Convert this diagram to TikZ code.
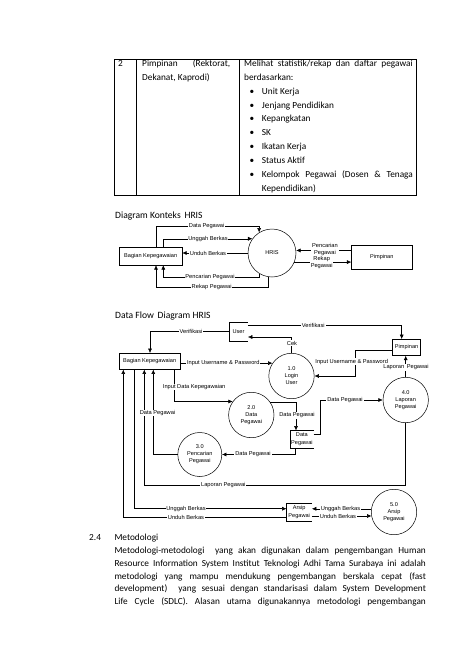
\documentclass[tikz,border=0pt]{standalone}
\usepackage{fontspec}
\setmainfont{Carlito}
\newfontfamily\diafont{Liberation Sans}
\usetikzlibrary{arrows.meta}
\begin{document}
\begin{tikzpicture}[x=1pt,y=-1pt,
  every node/.style={inner sep=0pt},
  body/.style={font=\fontsize{9.3}{11}\selectfont, anchor=base west},
  captext/.style={font=\fontsize{9.6}{11}\selectfont, anchor=base west},
  lbl/.style={font=\diafont\fontsize{5.7}{6.9}\selectfont, fill=white, inner sep=0.8pt, align=center},
  proc/.style={circle, draw, line width=0.5pt, minimum size=45.4pt, font=\diafont\fontsize{5.6}{7}\selectfont, align=center},
  ent/.style={rectangle, draw, line width=0.5pt, font=\diafont\fontsize{5.6}{7}\selectfont},
  store/.style={rectangle, font=\diafont\fontsize{5.6}{7.5}\selectfont, align=center},
  flow/.style={draw, line width=0.5pt, -{Latex[length=4.4pt,width=4pt]}},
  plain/.style={draw, line width=0.5pt}
]
\useasboundingbox[fill=white] (0,0) rectangle (474,670);

% ---------------- table ----------------
\draw[line width=0.7pt] (114,59) rectangle (416,195);
\draw[line width=0.7pt] (136,59) -- (136,195) (239,59) -- (239,195);
\node[body] (t0) at (118,66.3) {2};
\node[body] (t1) at (142,66.3) {\makebox[88pt][s]{Pimpinan\hfill(Rektorat,}};
\node[body] (t2) at (142,80.2) {Dekanat, Kaprodi)};
\node[body] (t3) at (244,66.3) {\makebox[168.5pt][s]{Melihat statistik/rekap dan daftar pegawai}};
\node[body] (t4) at (244,80.2) {berdasarkan:};
\foreach \yy/\tt [count=\i] in {94.1/Unit Kerja, 108/Jenjang Pendidikan, 121.9/Kepangkatan, 135.8/SK, 149.7/Ikatan Kerja, 163.6/Status Aktif}{
  \node[body] (b\i) at (249.3,\yy) {\textbullet};
  \node[body] (bt\i) at (261.7,\yy) {\tt};
}
\node[body] (b7) at (249.3,177.5) {\textbullet};
\node[body] (bt7) at (261.7,177.5) {\makebox[151pt][s]{Kelompok Pegawai (Dosen \& Tenaga}};
\node[body] (bt8) at (261.7,191.4) {Kependidikan)};

% ---------------- context diagram ----------------
\node[captext] (c1) at (115,218) {Diagram Konteks\, HRIS};
\node[ent, minimum width=62.7pt, minimum height=17.3pt] (bk1) at (150.7,256.3) {Bagian Kepegawaian};
\node[proc, minimum size=48pt] (hris) at (272,253) {HRIS};
\node[ent, minimum width=60.5pt, minimum height=24pt] (pim1) at (381.8,257) {Pimpinan};

\draw[flow] (bk1.north -| 156,0) -- (156,226) -| (hris.122);
\draw[flow] (bk1.north -| 163.3,0) |- (hris.144);
\draw[flow] (hris.west) -- (hris.west -| bk1.east);
\draw[flow] (hris.238) |- (163.3,277.3) -- (bk1.south -| 163.3,0);
\draw[flow] (hris.260) |- (156,287.3) -- (bk1.south -| 156,0);
\draw[flow] (pim1.west |- hris.6) -- (hris.6);
\draw[flow] (hris.-22) -- (pim1.west |- hris.-22);

\node[lbl] (k1) at (206.7,226) {Data Pegawai};
\node[lbl] (k2) at (208,239) {Unggah Berkas};
\node[lbl] (k3) at (208,253) {Unduh Berkas};
\node[lbl] (k4) at (210,277.3) {Pencarian Pegawai};
\node[lbl] (k5) at (211.7,287.3) {Rekap Pegawai};
\node[lbl] (k6) at (325,249.2) {Pencarian\\Pegawai};
\node[lbl] (k7) at (321.7,262.8) {Rekap\\Pegawai};

% ---------------- data flow diagram ----------------
\node[captext] (c2) at (115,318) {Data Flow\, Diagram HRIS};
\node[ent, minimum width=60.7pt, minimum height=16pt] (bk2) at (149.7,361.3) {Bagian Kepegawaian};
\node[ent, minimum width=27.8pt, minimum height=16.2pt] (pim2) at (406.6,347.4) {Pimpinan};
\node[store, minimum width=18.4pt, minimum height=18.2pt] (user) at (238.5,331.6) {User};
\node[proc] (p1) at (291.5,376) {1.0\\Login\\User};
\node[proc] (p2) at (251.3,415) {2.0\\Data\\Pegawai};
\node[proc, minimum size=44pt] (p3) at (199.8,454.5) {3.0\\Pencarian\\Pegawai};
\node[proc] (p4) at (405.7,400) {4.0\\Laporan\\Pegawai};
\node[proc] (p5) at (394,512) {5.0\\Arsip\\Pegawai};
\node[store, minimum width=22.8pt, minimum height=17pt] (dstore) at (301.9,439.2) {Data\\Pegawai};
\node[store, minimum width=25pt, minimum height=18pt] (arsip) at (299.2,512) {Arsip\\Pegawai};
\draw[plain] (user.north east) -- (user.north west) -- (user.south west) -- (user.south east);
\draw[plain] (dstore.north east) -- (dstore.north west) -- (dstore.south west) -- (dstore.south east);
\draw[plain] (arsip.north east) -- (arsip.north west) -- (arsip.south west) -- (arsip.south east);

\draw[flow] (user.west) -| (bk2.north -| 150,0);
\draw[flow] (user.east |- 0,325.5) -| (pim2.north -| 401.7,0);
\draw[flow] (p1.north) |- (user.east |- 0,337);
\draw[flow] (bk2.east |- p1.146) -- (p1.146);
\draw[flow] (pim2.west |- 0,350) -| (355,376) -- (p1.east);
\draw[flow] (p4.north) -- (p4.north |- pim2.south);
\draw[flow] (bk2.south -| 174.5,0) |- (p2.144);
\draw[flow] (p2.34) -| (dstore.north -| 296,0);
\draw[flow] (dstore.east |- 0,434) -| (320,400) -- (p4.west);
\draw[flow] (dstore.south -| 295,0) |- (p3.east);
\draw[flow] (p3.west) -| (bk2.south -| 153.3,0);
\draw[flow] (p4.south) |- (144.3,485) -- (bk2.south -| 144.3,0);
\draw[flow] (bk2.south -| 134.3,0) |- (arsip.west |- 0,508.7);
\draw[flow] (arsip.west |- 0,517.3) -| (bk2.south -| 123.3,0);
\draw[flow] (p5.172) -- (arsip.east |- p5.172);
\draw[flow] (arsip.east |- p5.190) -- (p5.190);

\node[lbl] (d1) at (191,331.6) {Verifikasi};
\node[lbl] (d2) at (313.3,325.5) {Verifikasi};
\node[lbl] (d3) at (292,343) {Cek};
\node[lbl] (d4) at (223.3,363.3) {Input Username \& Password};
\node[lbl] (d5) at (351.7,361.7) {Input Username \& Password};
\node[lbl] (d6) at (406,367.3) {Laporan\, Pegawai};
\node[lbl] (d7) at (194.2,387) {Input Data Kepegawaian};
\node[lbl] (d8) at (297,415.3) {Data Pegawai};
\node[lbl] (d9) at (345,400) {Data Pegawai};
\node[lbl] (d10) at (253,454.5) {Data Pegawai};
\node[lbl] (d11) at (157.5,413) {Data Pegawai};
\node[lbl] (d12) at (223.3,485) {Laporan Pegawai};
\node[lbl] (d13) at (186,508.7) {Unggah Berkas};
\node[lbl] (d14) at (186,517.3) {Unduh Berkas};
\node[lbl] (d15) at (340.5,509) {Unggah Berkas};
\node[lbl] (d16) at (338,516) {Unduh Berkas};

% ---------------- section text ----------------
\node[body] (s0) at (89,540.3) {2.4};
\node[body] (s1) at (114.3,540.3) {Metodologi};
\node[body] (s2) at (114.3,553.7) {\makebox[311.4pt][s]{Metodologi-metodologi\ \ yang akan digunakan dalam pengembangan Human}};
\node[body] (s3) at (114.3,566.3) {\makebox[311.4pt][s]{Resource Information System Institut Teknologi Adhi Tama Surabaya ini adalah}};
\node[body] (s4) at (114.3,579) {\makebox[311.4pt][s]{metodologi yang mampu mendukung pengembangan berskala cepat (fast}};
\node[body] (s5) at (114.3,591.3) {\makebox[311.4pt][s]{development)\ \ yang sesuai dengan standarisasi dalam System Development}};
\node[body] (s6) at (114.3,604) {\makebox[311.4pt][s]{Life Cycle (SDLC). Alasan utama digunakannya metodologi pengembangan}};
\end{tikzpicture}
\end{document}
